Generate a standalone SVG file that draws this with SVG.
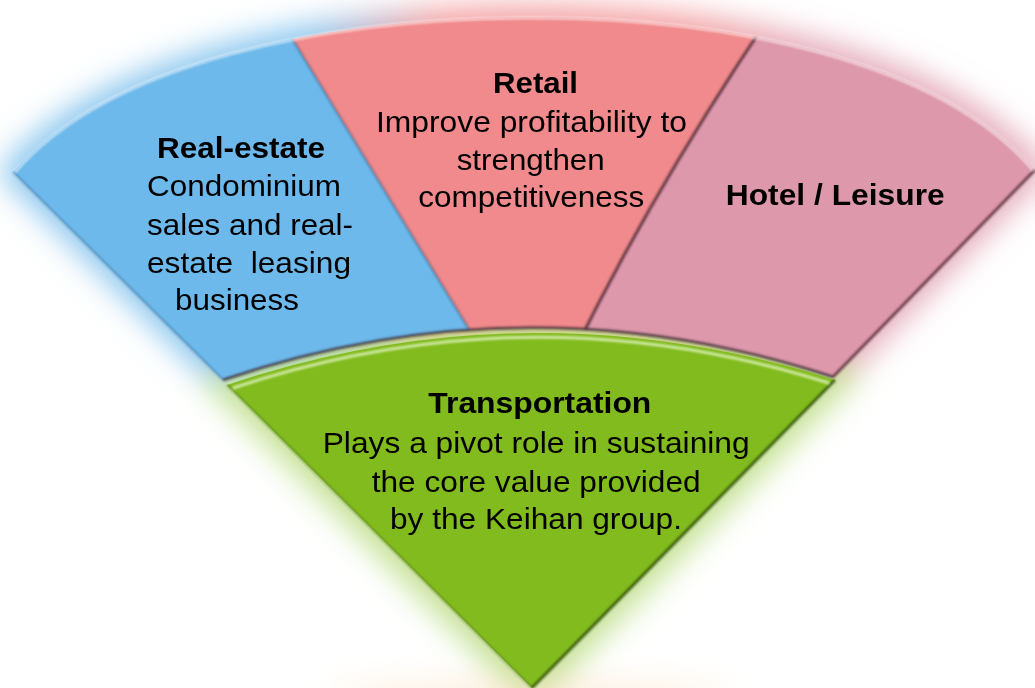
<svg xmlns="http://www.w3.org/2000/svg" width="1035" height="688" viewBox="0 0 1035 688">
<defs>
<style>
.t{font-family:"Liberation Sans",Arial,sans-serif;font-size:29px;fill:#000}
.b{font-weight:bold}
.edge{fill:none;stroke-linejoin:round}
</style>
<filter id="glow" x="-20%" y="-20%" width="140%" height="140%"><feGaussianBlur stdDeviation="15"/></filter>
<filter id="soft" x="-5%" y="-5%" width="110%" height="110%"><feGaussianBlur stdDeviation="1"/></filter>
<linearGradient id="gband" gradientUnits="userSpaceOnUse" x1="0" y1="0" x2="1035" y2="0">
<stop offset="0" stop-color="#6eb9eb"/><stop offset="0.3" stop-color="#6eb9eb"/>
<stop offset="0.42" stop-color="#f08a8c"/><stop offset="0.66" stop-color="#f08a8c"/>
<stop offset="0.78" stop-color="#de98ac"/><stop offset="1" stop-color="#de98ac"/>
</linearGradient>
<clipPath id="band"><path d="M13,172 C110,60 330,18 527,17 C724,16 940,58 1035,170 L833,377 Q528,277 223,380 Z"/></clipPath>
</defs>
<rect width="1035" height="688" fill="#fff"/>
<g id="glow-bg" filter="url(#glow)">
<path opacity="0.8" d="M13,172 C110,60 330,18 527,17 C724,16 940,58 1035,170 L833,377 Q528,277 223,380 Z" fill="url(#gband)" stroke="url(#gband)" stroke-width="22"/>
<path opacity="0.9" d="M227,385 Q530,283.5 835,380 L532,688 Z" fill="#a8d260" stroke="#c2e08e" stroke-width="30"/>
<ellipse opacity="0.5" cx="530" cy="694" rx="200" ry="14" fill="#fbe0c0"/>
</g>
<g id="real-estate">
<path clip-path="url(#band)" d="M0,0 L268.7,0 L512,400 L0,400 Z" fill="#6eb9eb"/>
<text class="t b" x="157" y="157.5" textLength="168" lengthAdjust="spacingAndGlyphs">Real-estate</text>
<text class="t" x="147" y="196" textLength="194" lengthAdjust="spacingAndGlyphs">Condominium</text>
<text class="t" x="147" y="234.5" textLength="206" lengthAdjust="spacingAndGlyphs">sales and real-</text>
<text class="t" x="147" y="272.5" textLength="204" lengthAdjust="spacingAndGlyphs" xml:space="preserve">estate  leasing</text>
<text class="t" x="175" y="310" textLength="124" lengthAdjust="spacingAndGlyphs">business</text>
</g>
<g id="retail">
<path clip-path="url(#band)" d="M268.7,0 L780.8,0 Q644,200 551,400 L512,400 Z" fill="#f08a8c"/>
<text class="t b" x="493" y="93.3" textLength="85" lengthAdjust="spacingAndGlyphs">Retail</text>
<text class="t" x="376" y="131.7" textLength="311" lengthAdjust="spacingAndGlyphs">Improve profitability to</text>
<text class="t" x="456.7" y="170" textLength="148" lengthAdjust="spacingAndGlyphs">strengthen</text>
<text class="t" x="418.3" y="206.7" textLength="226" lengthAdjust="spacingAndGlyphs">competitiveness</text>
</g>
<g id="hotel-leisure">
<path clip-path="url(#band)" d="M780.8,0 Q644,200 551,400 L1035,400 L1035,0 Z" fill="#de98ac"/>
<text class="t b" x="725.7" y="205" textLength="219" lengthAdjust="spacingAndGlyphs">Hotel / Leisure</text>
</g>
<g id="band-edges" filter="url(#soft)">
<path class="edge" clip-path="url(#band)" d="M290,35 L470,331" stroke="#3d5f86" stroke-width="2.5" opacity="0.5"/>
<path class="edge" clip-path="url(#band)" d="M780.8,0 Q644,200 551,400" stroke="#4a2430" stroke-width="3" opacity="0.8"/>
<path class="edge" d="M223,380 Q528,277 833,377" stroke="#3a2a30" stroke-width="3" opacity="0.75"/>
<path class="edge" d="M1035,170 L833,377" stroke="#4a2430" stroke-width="3" opacity="0.75"/>
<path class="edge" d="M13,172 L223,380" stroke="#3d6f9c" stroke-width="2" opacity="0.55"/>
<path class="edge" d="M15,172 C112,60 330,19 527,18 C724,17 938,59 1033,170" stroke="#ffffff" stroke-width="3" opacity="0.55"/>
</g>
<g id="transportation">
<path d="M227,385 Q530,283.5 835,380 L532,688 Z" fill="#82bb1e"/>
<g filter="url(#soft)">
<path class="edge" d="M835,380 L532,688" stroke="#2c4a08" stroke-width="3" opacity="0.8"/>
<path class="edge" d="M227,385 L532,688" stroke="#3f6a10" stroke-width="2" opacity="0.5"/>
<path class="edge" d="M233,388 Q530,289 829,383" stroke="#e4f5c4" stroke-width="3" opacity="0.8"/>
</g>
<text class="t b" x="428.3" y="413.3" textLength="223" lengthAdjust="spacingAndGlyphs">Transportation</text>
<text class="t" x="322.7" y="452.7" textLength="427" lengthAdjust="spacingAndGlyphs">Plays a pivot role in sustaining</text>
<text class="t" x="371.7" y="491.7" textLength="329" lengthAdjust="spacingAndGlyphs">the core value provided</text>
<text class="t" x="390" y="529.3" textLength="292" lengthAdjust="spacingAndGlyphs">by the Keihan group.</text>
</g>
<g id="connectors"/>
</svg>
